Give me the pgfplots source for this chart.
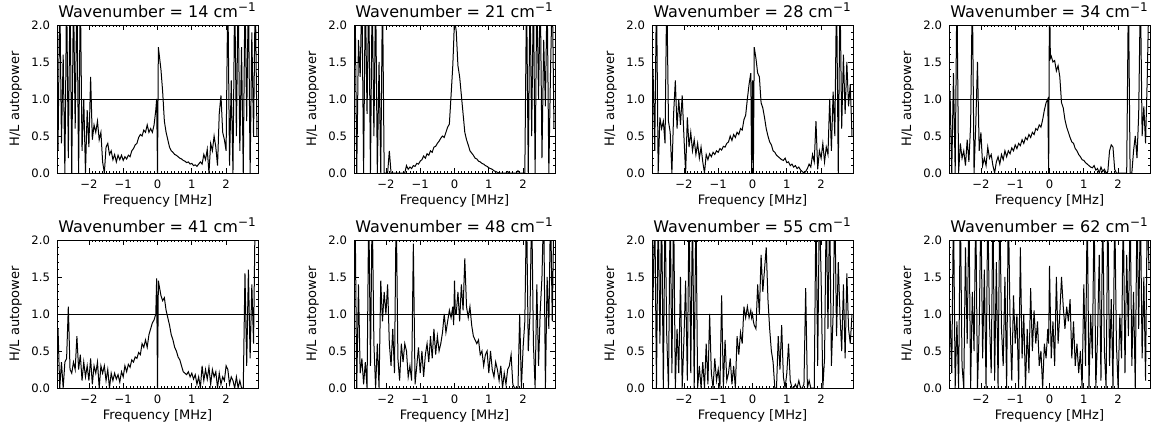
\documentclass[border=0pt]{standalone}
\usepackage{pgfplots}
\pgfplotsset{compat=1.18}
\usepackage{pgfplotstable}
\usepackage{fontspec}
\setmainfont{DejaVu Sans}

% H/L autopower vs frequency, one column per wavenumber (14,21,28,34,41,48,55,62)
\pgfplotstableread{
x a b c d e f g h
-2.90 0.3 2.5 1.4 1.1 0.8 2.5 1.2 1.0
-2.85 2.5 0.0 0.3 0.0 0.0 0.0 2.5 0.2
-2.80 0.4 1.8 2.5 1.35 0.35 1.4 0.0 2.5
-2.75 1.6 1.3 0.0 0.0 0.0 0.2 2.5 0.0
-2.70 0.0 2.5 0.75 2.5 0.35 0.4 0.6 0.9
-2.65 2.5 0.0 0.6 0.0 0.40 0.05 2.5 0.0
-2.60 0.2 2.5 0.7 0.4 1.10 0.35 0.0 2.5
-2.55 2.5 0.8 0.4 0.2 0.25 0.0 2.5 0.3
-2.50 0.0 2.5 2.5 0.3 0.20 2.5 0.7 0.0
-2.45 2.5 0.0 0.7 0.1 0.35 0.3 0.0 1.9
-2.40 0.6 2.5 0.55 0.45 0.25 2.5 2.5 0.6
-2.35 2.5 0.5 0.0 0.15 0.70 0.6 0.2 2.5
-2.30 0.0 2.5 0.8 0.65 0.25 0.0 2.5 0.0
-2.25 2.5 0.0 1.25 2.5 0.45 0.6 0.0 1.3
-2.20 0.3 1.5 0.6 0.0 0.10 0.0 0.8 0.5
-2.15 1.0 0.0 1.0 0.65 0.35 1.45 0.2 2.5
-2.10 0.0 2.5 0.65 1.5 0.15 0.9 1.5 0.0
-2.05 0.85 0.0 1.05 0.3 0.30 1.3 0.0 0.8
-2.00 0.35 0.0 0.5 0.55 0.10 1.0 0.65 2.5
-1.95 1.3 0.0 0.0 0.1 0.40 1.4 1.45 0.4
-1.90 0.45 0.3 0.75 0.2 0.05 0.6 0.1 1.6
-1.85 0.65 0.0 0.35 0.1 0.30 0.3 2.5 0.0
-1.80 0.55 0.0 0.55 0.35 0.20 0.8 0.2 2.5
-1.75 0.7 0.0 0.3 0.2 0.35 0.2 2.5 0.9
-1.70 0.45 0.0 0.45 0.25 0.00 2.5 0.0 0.2
-1.65 0.55 0.0 0.25 0.1 0.30 0.4 2.5 2.5
-1.60 0.15 0.0 0.4 0.0 0.20 0.1 0.0 0.1
-1.55 0.0 0.0 0.2 0.15 0.30 0.6 0.3 1.7
-1.50 0.35 0.0 0.35 0.22 0.10 0.35 0.0 0.0
-1.45 0.40 0.0 0.15 0.12 0.25 0.6 0.35 2.5
-1.40 0.25 0.1 0.0 0.25 0.00 0.5 0.0 0.8
-1.35 0.30 0.05 0.25 0.18 0.20 0.15 0.6 0.3
-1.30 0.18 0.08 0.18 0.30 0.10 0.3 0.05 1.5
-1.25 0.25 0.06 0.26 0.22 0.20 0.1 1.0 0.0
-1.20 0.15 0.10 0.22 0.30 0.12 1.95 0.2 2.5
-1.15 0.24 0.09 0.28 0.26 0.18 0.05 0.0 0.9
-1.10 0.18 0.13 0.25 0.34 0.08 0.3 0.4 0.1
-1.05 0.24 0.12 0.30 0.30 0.22 0.55 0.1 1.25
-1.00 0.17 0.16 0.28 0.38 0.15 0.2 0.25 0.6
-0.95 0.22 0.18 0.33 0.33 0.30 0.5 0.0 1.0
-0.90 0.19 0.23 0.31 0.40 0.22 0.15 1.25 0.0
-0.85 0.24 0.20 0.36 0.37 0.32 0.45 0.0 1.9
-0.80 0.22 0.26 0.35 0.45 0.28 0.6 0.65 0.4
-0.75 0.30 0.24 0.40 0.40 0.38 0.35 0.1 1.0
-0.70 0.33 0.30 0.42 0.48 0.35 0.7 0.2 0.0
-0.65 0.38 0.28 0.50 0.45 0.42 0.4 0.4 0.8
-0.60 0.40 0.35 0.44 0.52 0.40 0.8 0.05 0.2
-0.55 0.48 0.36 0.52 0.48 0.48 0.45 0.3 1.35
-0.50 0.52 0.40 0.48 0.55 0.45 0.7 0.0 0.5
-0.45 0.50 0.43 0.55 0.52 0.60 0.5 0.7 1.05
-0.40 0.58 0.47 0.52 0.60 0.55 0.6 0.45 0.6
-0.35 0.55 0.50 0.60 0.58 0.65 0.75 0.75 0.9
-0.30 0.65 0.48 0.58 0.65 0.55 1.0 0.6 0.3
-0.25 0.55 0.55 0.72 0.62 0.72 0.75 1.1 0.5
-0.20 0.60 0.62 0.78 0.72 0.80 0.9 0.95 0.0
-0.15 0.55 0.66 1.00 0.85 0.88 1.05 1.1 0.6
-0.10 0.65 1.05 1.20 0.95 0.92 0.95 0.95 0.4
-0.05 0.85 1.45 1.35 1.00 1.00 1.1 1.05 0.8
-0.025 1.0 1.75 0.0 0.0 1.48 0.85 0.95 0.6
0.00 0.0 2.1 1.25 2.5 0.0 1.45 1.0 1.65
0.025 1.70 2.0 0.0 1.55 1.45 1.0 0.9 1.0
0.05 1.60 1.92 1.70 1.58 1.38 1.0 0.85 0.4
0.10 1.40 1.45 1.55 1.50 1.25 1.3 0.8 0.9
0.15 1.10 1.30 1.35 1.52 1.18 0.9 1.4 0.3
0.20 0.70 1.05 1.30 1.38 1.22 1.4 1.0 1.5
0.25 0.55 0.80 0.95 1.45 1.05 1.05 1.8 0.6
0.30 0.45 0.55 0.88 1.30 0.95 1.75 1.3 1.0
0.35 0.35 0.45 0.75 0.95 0.85 1.1 1.6 1.5
0.40 0.30 0.38 0.60 0.88 0.72 0.95 1.9 1.1
0.45 0.28 0.30 0.50 0.72 0.65 1.1 1.2 0.8
0.50 0.25 0.27 0.42 0.62 0.55 0.85 0.8 1.1
0.55 0.24 0.24 0.38 0.55 0.50 0.7 0.5 0.9
0.60 0.22 0.20 0.30 0.48 0.42 0.65 0.35 1.2
0.65 0.20 0.19 0.28 0.42 0.38 0.6 0.0 0.4
0.70 0.19 0.16 0.24 0.40 0.30 0.65 0.0 0.9
0.75 0.17 0.15 0.22 0.33 0.22 0.45 0.7 0.3
0.80 0.16 0.13 0.20 0.30 0.20 0.5 0.25 0.6
0.85 0.14 0.12 0.18 0.25 0.18 0.3 0.85 0.2
0.90 0.15 0.10 0.17 0.22 0.22 0.45 0.15 0.5
0.95 0.12 0.09 0.20 0.18 0.15 0.5 0.0 0.0
1.00 0.13 0.07 0.14 0.17 0.20 0.2 0.2 1.4
1.05 0.10 0.06 0.15 0.14 0.12 0.5 0.6 0.3
1.10 0.11 0.05 0.10 0.12 0.18 0.25 0.1 2.5
1.15 0.09 0.03 0.12 0.10 0.05 0.15 0.0 0.0
1.20 0.12 0.02 0.08 0.08 0.15 0.35 0.0 1.0
1.25 0.15 0.01 0.10 0.07 0.00 0.25 0.05 0.4
1.30 0.12 0.0 0.06 0.10 0.30 0.1 0.0 2.5
1.35 0.25 0.0 0.08 0.04 0.10 0.3 0.1 0.0
1.40 0.18 0.0 0.04 0.06 0.25 0.0 0.0 0.7
1.45 0.32 0.0 0.02 0.0 0.12 0.2 0.0 1.8
1.50 0.0 0.0 0.0 0.08 0.28 0.05 0.05 0.1
1.55 0.40 0.02 0.02 0.02 0.05 0.25 1.35 2.5
1.60 0.30 0.0 0.06 0.05 0.25 0.3 0.0 0.5
1.65 0.50 0.0 0.12 0.0 0.15 0.45 0.1 0.0
1.70 0.35 0.0 0.08 0.02 0.22 0.05 0.0 2.5
1.75 0.10 0.0 0.25 0.30 0.00 0.0 0.0 0.3
1.80 0.80 0.0 0.15 0.38 0.20 0.0 0.0 1.2
1.85 1.05 0.03 0.70 0.35 0.05 0.0 2.5 0.0
1.90 0.55 0.0 0.05 0.05 0.15 1.0 0.3 2.5
1.95 0.45 0.0 0.30 0.0 0.10 0.0 2.5 0.6
2.00 0.30 0.0 0.20 0.0 0.30 0.55 1.5 0.0
2.05 2.5 0.0 0.40 0.0 0.25 0.9 0.0 1.0
2.10 0.1 2.5 0.15 0.0 0.05 2.5 0.4 0.4
2.15 1.25 0.0 0.35 0.0 0.15 0.5 2.5 2.5
2.20 0.0 2.5 0.25 0.0 0.10 1.0 0.8 0.2
2.25 2.5 0.5 1.00 0.0 0.0 2.5 2.5 1.8
2.30 0.5 2.5 0.30 2.5 0.15 0.6 0.3 0.7
2.35 2.5 0.0 1.10 0.0 0.0 0.0 1.0 2.5
2.40 0.3 2.5 0.5 0.0 0.10 1.4 2.5 0.3
2.45 1.7 1.0 2.5 0.3 0.0 0.3 0.7 1.3
2.50 0.0 2.5 0.0 0.5 0.0 1.05 1.7 0.0
2.55 2.5 0.2 2.5 0.2 1.55 1.5 1.0 2.5
2.60 0.7 1.8 0.6 0.8 0.30 2.5 0.5 0.8
2.65 2.5 0.9 1.6 2.5 1.60 0.0 1.4 2.5
2.70 0.0 2.5 0.8 0.5 0.40 1.5 0.4 0.4
2.75 1.9 0.0 1.5 0.9 1.40 0.8 1.55 1.5
2.80 0.5 1.4 0.9 0.4 0.60 2.5 0.8 0.1
2.85 2.5 2.5 1.2 1.3 2.5 0.9 0.6 2.5
2.90 0.5 0.6 0.5 2.5 2.5 2.5 1.0 1.6
}\spec

\pgfplotsset{
  panel/.style={
    scale only axis, width=100.5pt, height=74pt,
    anchor=south west,
    xmin=-2.93, xmax=2.93, ymin=0, ymax=2,
    xtick={-2,-1,0,1,2}, xticklabels={−2,−1,0,1,2},
    ytick={0,0.5,1,1.5,2},
    yticklabel style={/pgf/number format/fixed, /pgf/number format/fixed zerofill, /pgf/number format/precision=1},
    /pgf/number format/assume math mode=true,
    minor x tick num=9, minor y tick num=4,
    tick align=inside, major tick length=2.5pt, minor tick length=1.2pt,
    tick style={black, line width=0.4pt},
    axis line style={line width=0.5pt},
    ticklabel style={font=\fontsize{5.8}{6}\selectfont},
    xlabel={Frequency [MHz]}, ylabel={H/L autopower},
    label style={font=\fontsize{6.5}{7}\selectfont},
    xlabel style={at={(axis description cs:0.5,-0.19)}, anchor=center},
    ylabel style={at={(axis description cs:-0.205,0.5)}, anchor=center},
    every axis title shift=0pt,
    title style={font=\fontsize{8}{9}\selectfont, at={(0.5,1)}, anchor=base, yshift=3.9pt},
  },
  dat/.style={black, line width=0.5pt},
}

\newcommand{\wn}[1]{Wavenumber = #1 cm\textsuperscript{−1}}

\begin{document}
\begin{tikzpicture}
\path[use as bounding box] (0,0) rectangle (578pt,217pt);

\begin{axis}[panel, at={(28.5pt,130.5pt)}, title={\wn{14}}]
\addplot[dat] table[x=x, y=a] {\spec};
\addplot[dat] coordinates {(-2.93,1) (2.93,1)};
\end{axis}

\begin{axis}[panel, at={(177pt,130.5pt)}, title={\wn{21}}]
\addplot[dat] table[x=x, y=b] {\spec};
\addplot[dat] coordinates {(-2.93,1) (2.93,1)};
\end{axis}

\begin{axis}[panel, at={(326pt,130.5pt)}, title={\wn{28}}]
\addplot[dat] table[x=x, y=c] {\spec};
\addplot[dat] coordinates {(-2.93,1) (2.93,1)};
\end{axis}

\begin{axis}[panel, at={(474.5pt,130.5pt)}, title={\wn{34}}]
\addplot[dat] table[x=x, y=d] {\spec};
\addplot[dat] coordinates {(-2.93,1) (2.93,1)};
\end{axis}

\begin{axis}[panel, at={(28.5pt,23pt)}, title={\wn{41}}]
\addplot[dat] table[x=x, y=e] {\spec};
\addplot[dat] coordinates {(-2.93,1) (2.93,1)};
\end{axis}

\begin{axis}[panel, at={(177pt,23pt)}, title={\wn{48}}]
\addplot[dat] table[x=x, y=f] {\spec};
\addplot[dat] coordinates {(-2.93,1) (2.93,1)};
\end{axis}

\begin{axis}[panel, at={(326pt,23pt)}, title={\wn{55}}]
\addplot[dat] table[x=x, y=g] {\spec};
\addplot[dat] coordinates {(-2.93,1) (2.93,1)};
\end{axis}

\begin{axis}[panel, at={(474.5pt,23pt)}, title={\wn{62}}]
\addplot[dat] table[x=x, y=h] {\spec};
\addplot[dat] coordinates {(-2.93,1) (2.93,1)};
\end{axis}
\end{tikzpicture}
\end{document}
